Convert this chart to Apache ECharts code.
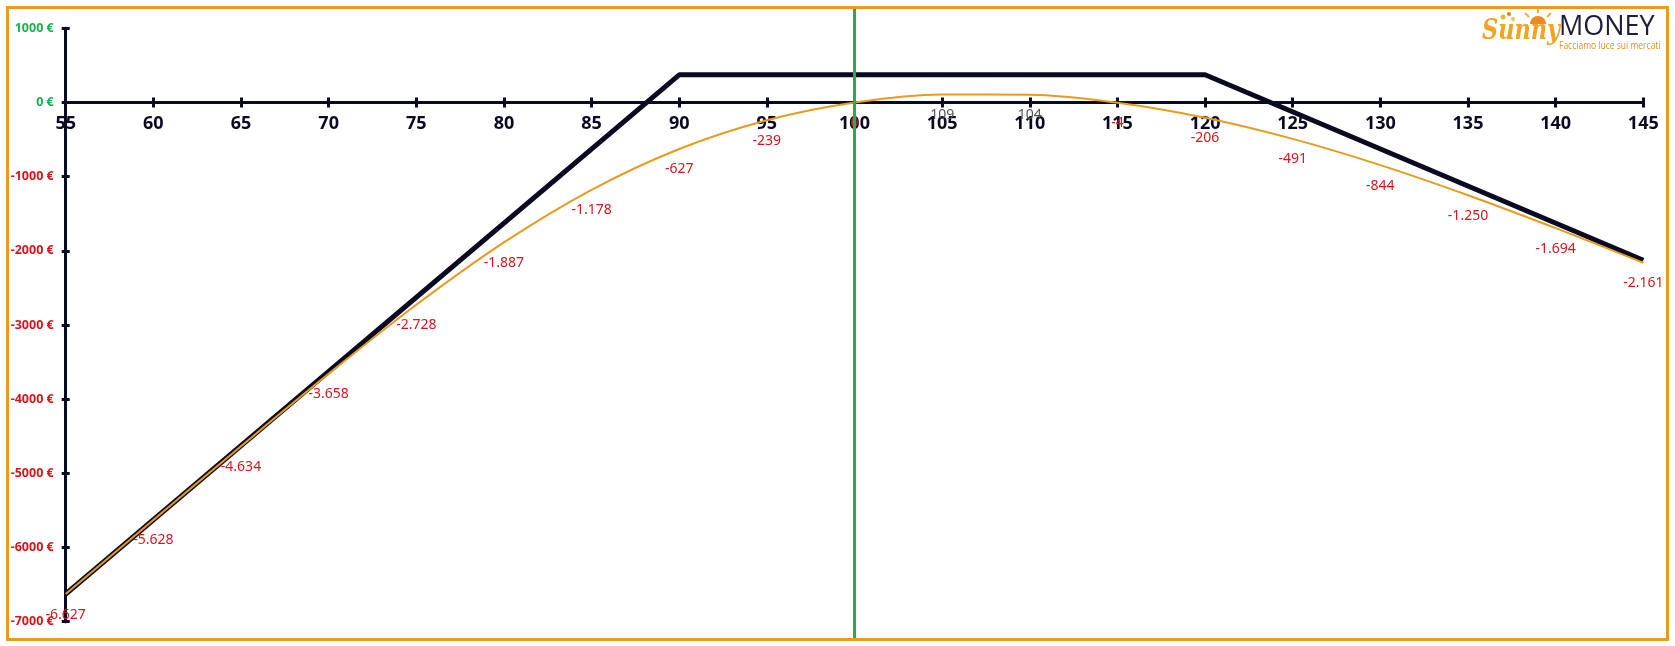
<!DOCTYPE html>
<html>
<head>
<meta charset="utf-8">
<script src="https://cdn.jsdelivr.net/npm/echarts@6/dist/echarts.min.js"></script>
<style>
html,body{margin:0;padding:0;background:#fff;}
#c{width:1675px;height:646px;}
</style>
</head>
<body>
<div id="c"></div>
<script>
// ---- data ----
var prices = [55,60,65,70,75,80,85,90,95,100,105,110,115,120,125,130,135,140,145];
var todayPL = [-6627,-5628,-4634,-3658,-2728,-1887,-1178,-627,-239,0,109,104,-4,-206,-491,-844,-1250,-1694,-2161];
var expiryPrices = [55,90,120,145];
var expiryPL = [-6627,373,373,-2127];
var currentPrice = 100;
var xMin = 55, xMax = 145, xStep = 5;
var yMin = -7000, yMax = 1000, yStep = 1000;

var NAVY = '#0a0a22', ORANGE = '#e89b1c', GREEN = '#1db04f', RED = '#d9151b', GRAY = '#555555';

function fmt(v){
  var s = Math.abs(v).toString().replace(/\B(?=(\d{3})+(?!\d))/g,'.');
  return (v < 0 ? '-' : '') + s;
}

var H = 646;
var gridL = 65.7, gridR = 31.7, gridT = 28.3, gridB = 24.3;
// strip grid whose bottom edge is the zero line of the main grid
var zeroY = gridT + (yMax - 0) / (yMax - yMin) * (H - gridT - gridB);
var stripB = H - zeroY;

var todayData = prices.map(function(p,i){
  var v = todayPL[i];
  return {value:[p,v], label:{color: v > 0 ? GRAY : RED}};
});
var expiryData = expiryPrices.map(function(p,i){ return [p, expiryPL[i]]; });

var chart = echarts.init(document.getElementById('c'));
var axisLineStyle = {color:NAVY, width:3};
var tickStyle = {color:NAVY, width:3};
chart.setOption({
  animation:false,
  textStyle:{fontFamily:'Noto Sans'},
  grid:[
    {left:gridL, right:gridR, top:gridT, bottom:gridB},   // 0 main
    {left:gridL, right:gridR, top:9, bottom:8},           // 1 current price line
    {left:gridL, right:gridR, top:gridT, bottom:gridB},   // 2 inner y ticks
    {left:gridL, right:gridR, top:gridT, bottom:stripB},  // 3 x axis (down ticks + labels)
    {left:gridL, right:gridR, top:gridT, bottom:stripB}   // 4 x axis (up ticks)
  ],
  xAxis:[
    {type:'value', gridIndex:0, min:xMin, max:xMax, interval:xStep, show:false},
    {type:'value', gridIndex:1, min:xMin, max:xMax, show:false},
    {type:'value', gridIndex:2, min:xMin, max:xMax, show:false},
    {type:'value', gridIndex:3, min:xMin, max:xMax, interval:xStep, position:'bottom',
     splitLine:{show:false},
     axisLine:{show:true, onZero:false, lineStyle:axisLineStyle},
     axisTick:{show:true, length:5, lineStyle:tickStyle},
     axisLabel:{show:true, margin:12, color:NAVY, fontSize:18, fontWeight:'bold', fontFamily:'Noto Sans'}},
    {type:'value', gridIndex:4, min:xMin, max:xMax, interval:xStep, position:'bottom',
     splitLine:{show:false},
     axisLine:{show:true, onZero:false, lineStyle:axisLineStyle},
     axisTick:{show:true, inside:true, length:5, lineStyle:tickStyle},
     axisLabel:{show:false}}
  ],
  yAxis:[
    {type:'value', gridIndex:0, min:yMin, max:yMax, interval:yStep, position:'left',
     splitLine:{show:false},
     axisLine:{show:true, onZero:false, lineStyle:axisLineStyle},
     axisTick:{show:true, length:4, lineStyle:tickStyle},
     axisLabel:{show:true, margin:12, fontSize:12.5, fontWeight:'bold', fontFamily:'Noto Sans',
       formatter:function(v){ return v + ' €'; },
       color:function(v){ return Number(v) >= 0 ? GREEN : RED; }}},
    {type:'value', gridIndex:1, min:0, max:1, show:false},
    {type:'value', gridIndex:2, min:yMin, max:yMax, interval:yStep, position:'left',
     splitLine:{show:false},
     axisLine:{show:true, onZero:false, lineStyle:axisLineStyle},
     axisTick:{show:true, inside:true, length:4, lineStyle:tickStyle},
     axisLabel:{show:false}},
    {type:'value', gridIndex:3, min:0, max:yMax, show:false},
    {type:'value', gridIndex:4, min:0, max:yMax, show:false}
  ],
  series:[
    {type:'line', name:'expiry', xAxisIndex:0, yAxisIndex:0, data:expiryData,
     symbol:'none', lineStyle:{color:NAVY, width:5}, z:2, silent:true},
    {type:'line', name:'today', xAxisIndex:0, yAxisIndex:0, data:todayData,
     smooth:0.35, symbol:'circle', symbolSize:1, showSymbol:true,
     itemStyle:{color:'rgba(0,0,0,0)'},
     lineStyle:{color:ORANGE, width:2}, z:3,
     label:{show:true, position:'bottom', distance:13, fontSize:14, fontFamily:'Noto Sans',
       formatter:function(p){ return fmt(p.value[1]); }}},
    {type:'line', name:'current', xAxisIndex:1, yAxisIndex:1,
     data:[[currentPrice,0],[currentPrice,1]], symbol:'none',
     lineStyle:{color:GREEN, width:3}, z:5, silent:true}
  ],
  graphic:[
    {type:'rect', shape:{x:7.5, y:7.5, width:1660, height:632},
     style:{fill:'none', stroke:ORANGE, lineWidth:3}, z:100},
    {type:'text', x:1559, y:14,
     style:{text:'MONEY', fontSize:27, fontFamily:'Open Sans', fill:'#1b1f3b'}},
    {type:'text', x:1559, y:40, scaleX:0.74,
     style:{text:'Facciamo luce sui mercati', fontSize:11.5, fontFamily:'Open Sans', fill:'#e8901a'}},
    {type:'text', x:1482, y:18, scaleX:0.8,
     style:{text:'Sunny', fontSize:28, fontStyle:'italic', fontWeight:'bold', fontFamily:'DejaVu Serif', fill:'#f0a420'}},
    {type:'sector', shape:{cx:1538, cy:24, r0:0, r:8, startAngle:Math.PI, endAngle:2*Math.PI},
     style:{fill:'#f08a20'}},
    {type:'line', shape:{x1:1538, y1:13, x2:1538, y2:9}, style:{stroke:'#f5b030', lineWidth:2}},
    {type:'line', shape:{x1:1529, y1:17, x2:1525, y2:13}, style:{stroke:'#f5b030', lineWidth:2}},
    {type:'line', shape:{x1:1547, y1:17, x2:1551, y2:13}, style:{stroke:'#f5b030', lineWidth:2}},
    {type:'circle', shape:{cx:1503, cy:17, r:2.5}, style:{fill:'#f0b030'}},
    {type:'circle', shape:{cx:1509, cy:14, r:2}, style:{fill:'#e07a20'}},
    {type:'circle', shape:{cx:1513, cy:19, r:2}, style:{fill:'#f5c040'}}
  ]
});
</script>
</body>
</html>
